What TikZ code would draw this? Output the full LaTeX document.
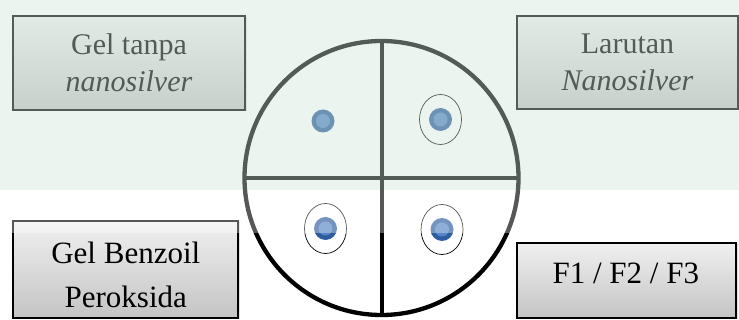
\documentclass[tikz,border=0pt]{standalone}
\usepackage{fontspec}
\setmainfont{Liberation Serif}
\usetikzlibrary{shapes.geometric,shadows}
\definecolor{boxtop}{HTML}{F0F0F0}
\definecolor{boxbot}{HTML}{C4C4C4}
\definecolor{dotout}{HTML}{2E5C9E}
\definecolor{dotin}{HTML}{5586C6}
\definecolor{mist}{RGB}{205,228,215}
\begin{document}
\begin{tikzpicture}[x=1pt,y=-1pt,
  box/.style={draw=black, line width=1.1pt, top color=boxtop, bottom color=boxbot,
    inner sep=0pt, drop shadow={opacity=0.25,shadow xshift=1.5pt,shadow yshift=-1.5pt}},
  txt/.style={align=center, inner sep=0pt, text=black},
  well/.style={ellipse, draw=black, line width=0.7pt, minimum width=42pt, minimum height=50pt, inner sep=0pt},
  dotouter/.style={circle, fill=dotout, minimum size=23pt, inner sep=0pt},
  dotinner/.style={circle, fill=dotin, minimum size=14pt, inner sep=0pt}]
\useasboundingbox (0,0) rectangle (739,320);
\fill[white] (0,0) rectangle (739,320);

% boxes
\node[box, minimum width=232pt, minimum height=94pt] (gelbox) at (129,63) {};
\node[txt, font=\fontsize{30}{37}\selectfont] (geltxt) at (129,63) {Gel tanpa\\\textit{nanosilver}};
\node[box, minimum width=221pt, minimum height=93pt] (larbox) at (627.5,62.5) {};
\node[txt, font=\fontsize{30}{37}\selectfont] (lartxt) at (627.5,62.5) {Larutan\\\textit{Nanosilver}};
\node[box, minimum width=225pt, minimum height=97pt] (benbox) at (125.5,269.5) {};
\node[txt, font=\fontsize{31}{44}\selectfont] (bentxt) at (125.8,274.5) {Gel Benzoil\\Peroksida};
\node[box, minimum width=219pt, minimum height=75pt] (fbox) at (626.5,280.5) {};
\node[txt, font=\fontsize{31}{37}\selectfont] (ftxt) at (625.8,273.5) {F1 / F2 / F3};

% petri dish
\node[circle, draw=black, line width=4.3pt, fill=white, minimum size=274pt, inner sep=0pt, outer sep=0pt] (dish) at (381.5,178) {};
\draw[line width=4pt] (dish.north) -- (dish.south);
\draw[line width=4pt] (dish.west) -- (dish.east);

% wells and spots
\node[dotouter] (s1) at (323,121) {};
\node[dotinner] (s1i) at (s1) {};
\node[well] (w2) at (440.5,119.5) {};
\node[dotouter] (s2) at (w2) {};
\node[dotinner] (s2i) at (w2) {};
\node[well] (w3) at (325.5,228.5) {};
\node[dotouter] (s3) at (w3) {};
\node[dotinner] (s3i) at (w3) {};
\node[well] (w4) at (442,229.5) {};
\node[dotouter] (s4) at (w4) {};
\node[dotinner] (s4i) at (w4) {};

% faint tint of the scan over the upper part
\fill[mist, opacity=0.4] (0,0) rectangle (739,190);
\fill[white, opacity=0.34] (0,190) rectangle (739,233);
\end{tikzpicture}
\end{document}
